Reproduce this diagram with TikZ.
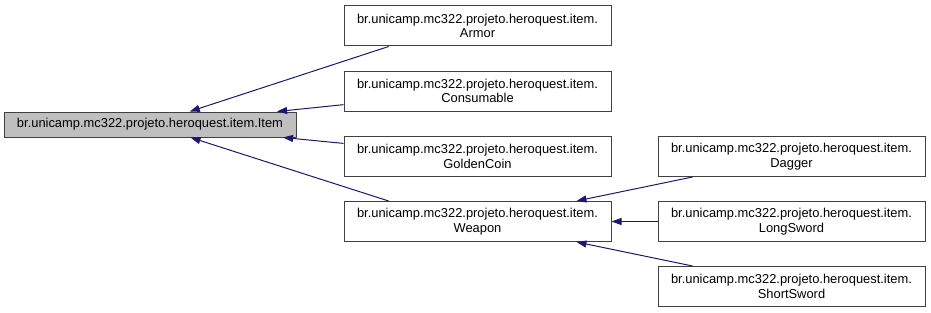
\documentclass[tikz,border=0pt]{standalone}
\usepackage{fontspec}
\setmainfont{Liberation Sans}
\usetikzlibrary{arrows.meta}
\definecolor{midnight}{HTML}{191970}

\begin{document}
\begin{tikzpicture}[x=1pt,y=-1pt,
    cls/.style={draw=black!75,fill=white,line width=1pt,inner sep=0pt,
      minimum width=267pt,minimum height=40pt,align=center,
      font=\fontsize{12.9}{14.5}\selectfont},
    base/.style={cls,fill=black!25,minimum width=292pt,minimum height=25pt},
    inherit/.style={draw=midnight,line width=1pt,
      -{Triangle[length=10pt,width=7pt]}}]
      \useasboundingbox (0,0) rectangle (931,313);

      \node[base] (item) at (150,124.5) {br.unicamp.mc322.projeto.heroquest.item.Item};

      \node[cls] (armor)      at (477.5,26)    {br.unicamp.mc322.projeto.heroquest.item.\\Armor};
      \node[cls] (consumable) at (477.5,91)    {br.unicamp.mc322.projeto.heroquest.item.\\Consumable};
      \node[cls] (goldencoin) at (477.5,156.5) {br.unicamp.mc322.projeto.heroquest.item.\\GoldenCoin};
      \node[cls] (weapon)     at (477.5,221.5) {br.unicamp.mc322.projeto.heroquest.item.\\Weapon};

      \node[cls] (dagger)     at (791.5,156.5) {br.unicamp.mc322.projeto.heroquest.item.\\Dagger};
      \node[cls] (longsword)  at (791.5,221.5) {br.unicamp.mc322.projeto.heroquest.item.\\LongSword};
      \node[cls] (shortsword) at (791.5,286.5) {br.unicamp.mc322.projeto.heroquest.item.\\ShortSword};

      % armor and weapon leave their boxes a bit left of the straight line
      \foreach \child/\parent in {armor.193/item,consumable/item,goldencoin/item,weapon.167/item,
          dagger/weapon,longsword/weapon,shortsword/weapon}
        \draw[inherit] (\child) -- (\parent);
    \end{tikzpicture}
\end{document}
